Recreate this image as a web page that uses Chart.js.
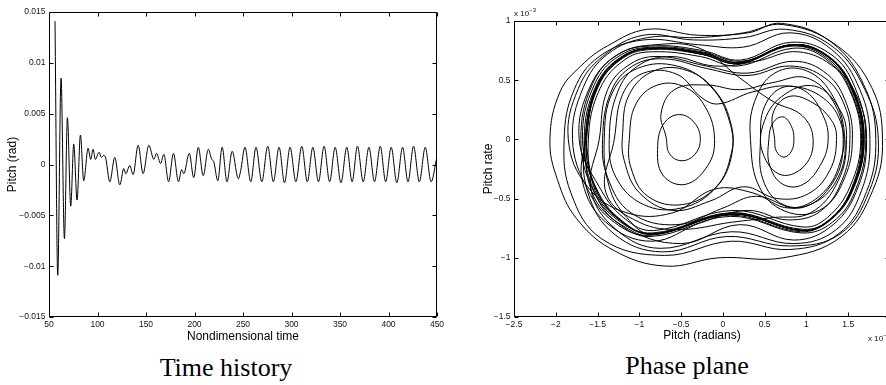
<!DOCTYPE html>
<html><head><meta charset="utf-8">
<script src="https://cdn.jsdelivr.net/npm/chart.js@4.4.1/dist/chart.umd.min.js"></script>
<style>
html,body{margin:0;padding:0;background:#fff;overflow:hidden;width:886px;height:385px;}
#wrap{position:relative;width:886px;height:385px;overflow:hidden;}
canvas{position:absolute;}
.cap{position:absolute;font-family:"Liberation Serif","Times New Roman",serif;font-size:26px;line-height:26px;color:#000;white-space:nowrap;transform:translateX(-50%);}
.exp{position:absolute;font-family:"Liberation Sans",Arial,sans-serif;font-size:8px;line-height:8px;color:#111;white-space:nowrap;}
.exp sup{font-size:6px;vertical-align:4px;line-height:0;}
</style></head>
<body><div id="wrap">
<canvas id="c1" width="450" height="345" style="left:0;top:0"></canvas>
<canvas id="c2" width="440" height="345" style="left:470px;top:0"></canvas>
<div class="cap" style="left:226px;top:355px">Time history</div>
<div class="cap" style="left:687px;top:353px">Phase plane</div>
<div class="exp" style="left:514px;top:10px">x 10<sup>&minus;3</sup></div>
<div class="exp" style="left:868px;top:335px">x 10<sup>&minus;3</sup></div>
</div>
<script>
// ---------- Time history data ----------
const timeValues = [56.2,59.0,62.4,65.9,69.0,72.4,75.5,78.9,82.4,85.8,90.3,93.0,95.4,97.8,101.6,104.0,106.5,108.5,112.7,117.8,123.0,127.1,129.2,133.3,136.7,141.9,147.0,152.9,158.1,160.9,165.0,168.4,173.3,178.3,183.5,186.7,189.0,194.6,199.2,203.9,209.0,214.2,217.8,219.8,224.0,228.5,233.5,238.8,245.2,247.6,252.0,258.0,263.4,269.4,275.5,281.3,287.2,292.8,298.5,304.5,310.6,316.3,322.0,327.8,333.6,339.3,345.0,351.0,357.0,362.5,368.0,373.9,379.8,385.6,391.5,397.1,402.8,408.6,414.5,420.1,425.8,431.8,437.9,443.9,450.0];
const pitchValues = [0.0141,-0.0109,0.0085,-0.0073,0.0046,-0.0041,0.0020,-0.0035,0.0029,-0.0016,0.0016,0.0005,0.0015,0.0005,0.0012,0.0007,0.0009,0.0006,-0.0017,0.0007,-0.0020,-0.0004,-0.0009,-0.0001,-0.0010,0.0019,-0.0009,0.0019,0.0005,0.0011,0.0001,0.0010,-0.0017,0.0011,-0.0017,-0.0005,-0.0009,0.0011,-0.0013,0.0017,-0.0011,0.0015,0.0005,0.0003,-0.0016,0.0017,-0.0017,0.0013,-0.0014,-0.0006,0.0017,-0.0017,0.0017,-0.0017,0.0018,-0.0017,0.0017,-0.0018,0.0017,-0.0017,0.0018,-0.0017,0.0017,-0.0017,0.0018,-0.0017,0.0017,-0.0018,0.0017,-0.0017,0.0018,-0.0017,0.0017,-0.0017,0.0018,-0.0017,0.0017,-0.0018,0.0017,-0.0017,0.0018,-0.0017,0.0017,-0.0017,0.0008];
const timeTicks = [50,100,150,200,250,300,350,400,450];
const pitchTicks = [-0.015,-0.01,-0.005,0,0.005,0.01,0.015];

// ---------- Phase plane data (pitch x1e-3, pitch rate x1e-3) ----------
const phaseBandA = [
 [-1.65,0],[-1.51,0.45],[-1.20,0.70],[-0.82,0.77],[-0.25,0.73],[0.20,0.65],[0.82,0.80],[1.26,0.70],[1.55,0.42],[1.68,0],[1.55,-0.42],[1.28,-0.68],[0.95,-0.77],[0.10,-0.63],[-0.85,-0.80],[-1.23,-0.68],[-1.52,-0.42],
 [-1.64,0],[-1.50,0.45],[-1.19,0.70],[-0.83,0.77],[-0.25,0.72],[0.19,0.64],[0.83,0.80],[1.27,0.70],[1.56,0.42],[1.69,0],[1.56,-0.42],[1.29,-0.68],[0.96,-0.77],[0.11,-0.62],[-0.84,-0.80],[-1.22,-0.68],[-1.51,-0.42],
 [-1.68,0],[-1.54,0.46],[-1.23,0.71],[-0.80,0.78],[-0.25,0.74],[0.22,0.66],[0.80,0.79],[1.24,0.69],[1.53,0.41],[1.66,0],[1.53,-0.43],[1.26,-0.69],[0.93,-0.78],[0.08,-0.64],[-0.87,-0.81],[-1.30,-0.70],[-1.62,-0.42]
];
const phaseOuter = [
 [-1.80,0],[-1.67,0.44],[-1.38,0.72],[-0.90,0.86],[-0.30,0.86],[0.25,0.90],[0.72,0.97],[1.35,0.80],[1.78,0.44],[1.91,0],[1.80,-0.42],[1.42,-0.82],[0.72,-1.00],[-0.05,-1.00],[-0.69,-1.07],[-1.30,-0.94],[-1.75,-0.67],[-1.98,-0.34],
 [-2.07,0],[-1.95,0.40],[-1.70,0.62],[-1.38,0.79],[-0.90,0.93],[-0.30,0.88],[0.30,0.90],[0.70,0.98],[1.30,0.82],[1.70,0.44],[1.83,0],[1.72,-0.44],[1.38,-0.80],[0.80,-0.93],[0.10,-0.86],[-0.70,-0.98],[-1.45,-0.84],[-1.82,-0.45],
 [-1.90,0],[-1.78,0.42],[-1.48,0.70],[-0.95,0.84],[-0.30,0.80],[0.25,0.78],[0.80,0.90],[1.30,0.76],[1.64,0.42],[1.76,0],[1.66,-0.43],[1.36,-0.76],[0.85,-0.88],[0.10,-0.78],[-0.75,-0.92],[-1.28,-0.76],[-1.58,-0.42]
];
const phaseRightWell = [
 [-1.48,0],[-1.38,0.42],[-1.10,0.64],[-0.75,0.70],[-0.20,0.62],[0.30,0.56],[0.85,0.66],[1.25,0.55],[1.48,0.30],[1.55,0],[1.46,-0.32],[1.20,-0.58],[0.80,-0.62],[0.45,-0.42],[0.33,0],
 [0.38,0.32],[0.62,0.56],[1.00,0.58],[1.32,0.36],[1.46,0],[1.38,-0.32],[1.08,-0.54],[0.72,-0.55],[0.48,-0.34],[0.45,0],
 [0.50,0.28],[0.72,0.44],[1.00,0.40],[1.20,0.20],[1.26,0],[1.18,-0.20],[0.96,-0.38],[0.72,-0.38],[0.56,-0.22],[0.55,0],
 [0.60,0.14],[0.72,0.19],[0.82,0.11],[0.85,0],[0.82,-0.10],[0.73,-0.15],[0.64,-0.10],[0.62,0],
 [0.60,0.22],[0.78,0.36],[1.05,0.32],[1.30,0.16],[1.36,0],[1.28,-0.26],[1.02,-0.46],[0.65,-0.50],[0.25,-0.40],[-0.15,-0.52],[-0.60,-0.60],[-1.00,-0.45],[-1.18,-0.18],[-1.20,0.05]
];
const phaseLeftWell = [
 [-1.12,0.38],[-0.82,0.58],[-0.42,0.58],[-0.08,0.40],[0.10,0.12],[0.10,-0.12],[-0.08,-0.40],[-0.48,-0.55],[-0.90,-0.48],[-1.10,-0.24],[-1.12,0],
 [-1.04,0.30],[-0.78,0.46],[-0.45,0.44],[-0.20,0.26],[-0.10,0],[-0.18,-0.22],[-0.45,-0.38],[-0.72,-0.30],[-0.78,-0.05],
 [-0.70,0.14],[-0.52,0.21],[-0.34,0.14],[-0.27,0],[-0.34,-0.13],[-0.50,-0.18],[-0.64,-0.12],[-0.68,0.02],
 [-0.74,0.22],[-0.58,0.42],[-0.20,0.46],[0.20,0.42],[0.60,0.48],[1.00,0.52],[1.32,0.32],[1.44,0],[1.32,-0.36],[0.92,-0.58],[0.40,-0.48],[0.00,-0.58],[-0.55,-0.72],[-1.10,-0.62],[-1.38,-0.32]
];
const phaseBandB = [
 [-1.44,0],[-1.34,0.40],[-1.08,0.62],[-0.70,0.68],[-0.20,0.60],[0.30,0.54],[0.80,0.62],[1.22,0.52],[1.46,0.28],[1.52,0],[1.44,-0.32],[1.18,-0.60],[0.78,-0.68],[0.30,-0.60],[-0.25,-0.70],[-0.85,-0.86],[-1.40,-0.70],[-1.68,-0.36],
 [-1.64,0],[-1.50,0.44],[-1.19,0.69],[-0.83,0.76],[-0.26,0.72],[0.19,0.64],[0.83,0.79],[1.27,0.69],[1.56,0.42],[1.69,0],[1.56,-0.41],[1.29,-0.67],[0.96,-0.76],[0.11,-0.62],[-0.84,-0.79],[-1.26,-0.68],[-1.56,-0.42],
 [-1.70,0],[-1.56,0.47],[-1.25,0.72],[-0.81,0.79],[-0.24,0.75],[0.21,0.67],[0.81,0.82],[1.29,0.72],[1.58,0.44],[1.71,0],[1.58,-0.44],[1.31,-0.70],[0.94,-0.79],[0.09,-0.65],[-0.86,-0.82],[-1.27,-0.70],[-1.57,-0.44],
 [-1.63,0],[-1.49,0.45],[-1.18,0.70],[-0.82,0.77],[-0.26,0.72],[0.20,0.64],[0.82,0.80],[1.25,0.70],[1.54,0.42],[1.67,0],[1.54,-0.42],[1.27,-0.68],[0.95,-0.77],[0.10,-0.63],[-0.85,-0.80],[-1.15,-0.66],[-1.36,-0.40]
];
const phaseBandC = [
 [-1.42,0],[-1.32,0.40],[-1.02,0.60],[-0.55,0.62],[-0.15,0.45],[0.08,0.15],[0.10,-0.15],[-0.10,-0.42],[-0.50,-0.58],[-0.95,-0.55],[-1.28,-0.32],
 [-1.36,0],[-1.26,0.40],[-1.02,0.62],[-0.62,0.70],[-0.10,0.62],[0.40,0.66],[0.90,0.74],[1.35,0.60],[1.62,0.34],[1.72,0],[1.62,-0.40],[1.32,-0.72],[0.85,-0.85],[0.20,-0.72],[-0.50,-0.88],[-1.22,-0.72],[-1.54,-0.44],
 [-1.66,0],[-1.52,0.45],[-1.21,0.70],[-0.82,0.77],[-0.24,0.73],[0.19,0.65],[0.83,0.80],[1.26,0.70],[1.55,0.42],[1.68,0],[1.55,-0.42],[1.28,-0.68],[0.95,-0.77],[0.11,-0.63],[-0.84,-0.80],[-1.24,-0.68],[-1.53,-0.43],
 [-1.61,0],[-1.47,0.43],[-1.16,0.68],[-0.84,0.74],[-0.27,0.70],[0.18,0.62],[0.84,0.77],[1.23,0.68],[1.52,0.41],[1.65,0],[1.52,-0.40],[1.25,-0.66],[0.96,-0.74],[0.12,-0.60],[-0.83,-0.77],[-1.19,-0.66],[-1.48,-0.40]
];
const phaseCross = [
 [-1.72,0],[-1.58,0.46],[-1.25,0.72],[-0.80,0.80],[-0.28,0.77],[0.20,0.52],[0.60,0.32],[0.95,0.20],[1.08,0],[0.98,-0.22],[0.70,-0.30],[0.48,-0.12],[0.48,0.12],[0.70,0.36],[1.10,0.45],[1.40,0.25],[1.48,0],[1.38,-0.35],[1.05,-0.62],[0.60,-0.66],[0.10,-0.70],[-0.50,-0.76],[-1.00,-0.70],[-1.40,-0.45],
 [-1.30,0],[-1.20,0.38],[-0.95,0.56],[-0.55,0.55],[-0.25,0.35],[-0.05,0.30],[0.35,0.40],[0.80,0.45],[1.20,0.35],[1.42,0.12],[1.42,-0.15],[1.20,-0.45],[0.80,-0.58],[0.35,-0.45],[-0.10,-0.42],[-0.60,-0.62],[-1.15,-0.62],[-1.62,-0.40],
 [-1.85,0],[-1.73,0.43],[-1.44,0.70],[-0.95,0.88],[-0.35,0.84],[0.25,0.86],[0.75,0.93],[1.32,0.78],[1.70,0.42],[1.86,0],[1.75,-0.44],[1.40,-0.80],[0.80,-0.90],[0.05,-0.82],[-0.72,-0.95],[-1.30,-0.80],[-1.62,-0.44],
 [-1.65,0],[-1.51,0.45],[-1.20,0.70],[-0.82,0.77],[-0.25,0.73],[0.20,0.65],[0.82,0.80],[1.26,0.70],[1.55,0.42],[1.68,0],[1.55,-0.42],[1.28,-0.68],[0.95,-0.77],[0.10,-0.63],[-0.85,-0.80],[-1.23,-0.68],[-1.52,-0.42],[-1.65,0]
];
const phaseXTicks = [-2.5,-2,-1.5,-1,-0.5,0,0.5,1,1.5,2];
const phaseYTicks = [-1.5,-1,-0.5,0,0.5,1];

// ---------- helpers ----------
Chart.defaults.font.family = "'Liberation Sans', Arial, Helvetica, sans-serif";
const fmt = v => { const r = Math.round(v * 10000) / 10000; if (Math.abs(r) < 1e-9) return '0'; return String(r).replace('-', '\u2212'); };

const framePlugin = {
  id: 'frame',
  afterDatasetsDraw(chart) {
    const {ctx, chartArea: a, scales: {x, y}} = chart;
    ctx.save();
    ctx.strokeStyle = '#000';
    ctx.lineWidth = 1;
    const L = Math.round(a.left) + 0.5, R = Math.round(a.right) - 0.5, T = Math.round(a.top) + 0.5, B = Math.round(a.bottom) - 0.5;
    ctx.beginPath();
    ctx.moveTo(L, T); ctx.lineTo(R, T); ctx.lineTo(R, B); ctx.lineTo(L, B); ctx.closePath();
    ctx.stroke();
    const tl = 4;
    ctx.beginPath();
    x.ticks.forEach(t => {
      const px = Math.round(x.getPixelForValue(t.value)) + 0.5;
      ctx.moveTo(px, B); ctx.lineTo(px, B - tl);
      ctx.moveTo(px, T); ctx.lineTo(px, T + tl);
    });
    y.ticks.forEach(t => {
      const py = Math.round(y.getPixelForValue(t.value)) + 0.5;
      ctx.moveTo(L, py); ctx.lineTo(L + tl, py);
      ctx.moveTo(R, py); ctx.lineTo(R - tl, py);
    });
    ctx.stroke();
    ctx.restore();
  }
};

function axis(min, max, ticksArr, size, title, titlePad, isX) {
  return {
    type: 'linear', min: min, max: max,
    position: isX ? 'bottom' : 'left',
    afterFit: s => { if (isX) s.height = size; else s.width = size; },
    afterBuildTicks: s => { s.ticks = ticksArr.map(v => ({value: v})); },
    grid: {display: false, drawTicks: false},
    border: {display: false},
    ticks: {padding: isX ? 3 : 3.5, color: '#111', font: {size: 8.5}, maxRotation: 0, autoSkip: false, callback: fmt},
    title: {display: true, text: title, color: '#000', font: {size: 12}, padding: titlePad}
  };
}

// ---------- Left chart ----------
new Chart(document.getElementById('c1'), {
  type: 'scatter',
  data: {datasets: [{
    data: timeValues.map((t, i) => ({x: t, y: pitchValues[i]})),
    showLine: true, borderColor: '#000', borderWidth: 1, pointRadius: 0,
    cubicInterpolationMode: 'monotone'
  }]},
  options: {
    responsive: false, animation: false, devicePixelRatio: 1, events: [],
    layout: {padding: {top: 12, right: 13, left: 0, bottom: 0}},
    plugins: {legend: {display: false}, tooltip: {enabled: false}},
    scales: {
      x: axis(50, 450, timeTicks, 28, 'Nondimensional time', {top: 0, bottom: 1}, true),
      y: axis(-0.015, 0.015, pitchTicks, 49, 'Pitch (rad)', {top: 5.5, bottom: 0}, false)
    }
  },
  plugins: [framePlugin]
});

// ---------- Right chart ----------
const phasePath = [].concat(phaseBandA, phaseOuter, phaseRightWell, phaseLeftWell, phaseBandB, phaseBandC, phaseCross);
new Chart(document.getElementById('c2'), {
  type: 'scatter',
  data: {datasets: [{
    data: phasePath.map(p => ({x: p[0], y: p[1]})),
    showLine: true, borderColor: '#000', borderWidth: 1, pointRadius: 0, tension: 0.4
  }]},
  options: {
    responsive: false, animation: false, devicePixelRatio: 1, events: [],
    layout: {padding: {top: 21, right: 20, left: 0, bottom: 0}},
    plugins: {legend: {display: false}, tooltip: {enabled: false}},
    scales: {
      x: axis(-2.5, 2, phaseXTicks, 28, 'Pitch (radians)', {top: 0, bottom: 1.8}, true),
      y: axis(-1.5, 1, phaseYTicks, 44, 'Pitch rate', {top: 11, bottom: 0}, false)
    }
  },
  plugins: [framePlugin]
});
</script>
</body></html>
